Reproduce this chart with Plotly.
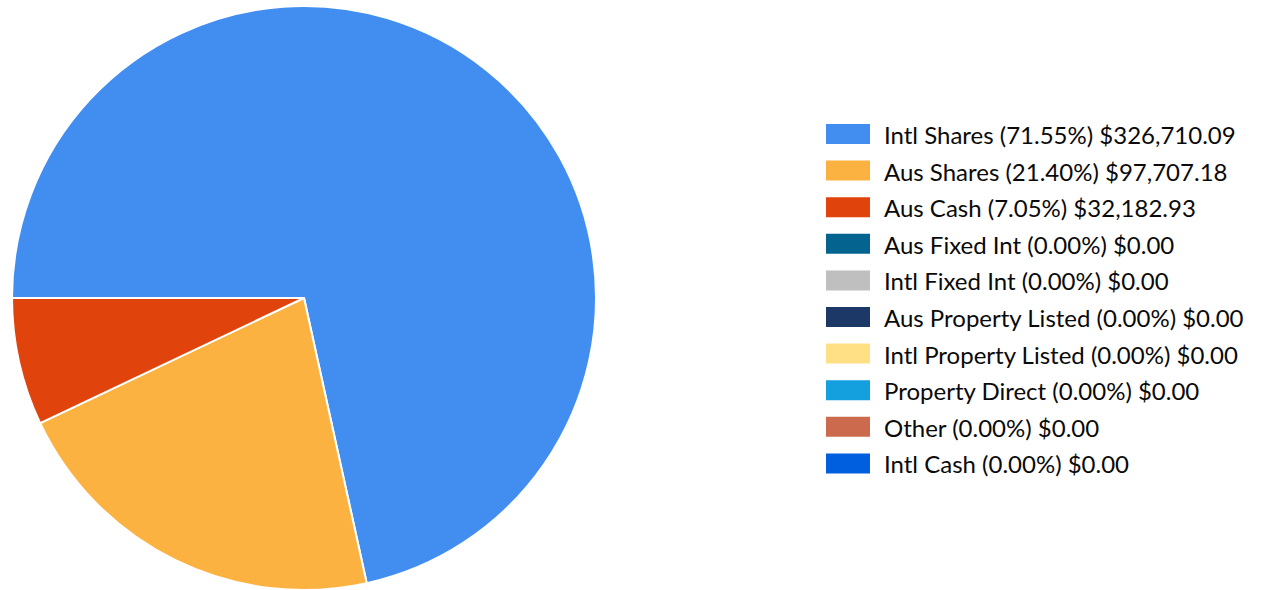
import plotly.graph_objects as go

categories = ["Intl Shares", "Aus Shares", "Aus Cash", "Aus Fixed Int", "Intl Fixed Int",
              "Aus Property Listed", "Intl Property Listed", "Property Direct", "Other", "Intl Cash"]
values = [326710.09, 97707.18, 32182.93, 0, 0, 0, 0, 0, 0, 0]
colors = ["#418EF0", "#FBB240", "#E0430B", "#05648F", "#BFBFBF",
          "#1C3867", "#FFE084", "#149FDE", "#CB6A4C", "#005FDE"]

W, H = 1262, 590
TOP = 6
PH = H - TOP
total = sum(values)
legend_text = [f"{c} ({v / total * 100:.2f}%) ${v:,.2f}" for c, v in zip(categories, values)]

fig = go.Figure(go.Pie(
    labels=categories, values=values, sort=False, direction="clockwise", rotation=270,
    marker=dict(colors=colors, line=dict(color="white", width=2)),
    textinfo="none", hoverinfo="label+value+percent", showlegend=False,
    domain=dict(x=[12 / W, 596 / W], y=[0, 1]),
))


def py(pix):
    # page pixel y -> paper fraction (plot area starts at TOP, height PH)
    return 1 - (pix - TOP) / PH


shapes, annotations = [], []
y0, dy = 134, 36.6
for i, (col, txt) in enumerate(zip(colors, legend_text)):
    yc = y0 + i * dy
    shapes.append(dict(type="rect", xref="paper", yref="paper",
                       x0=826 / W, x1=870 / W, y0=py(yc + 10), y1=py(yc - 10),
                       line=dict(width=0), fillcolor=col))
    annotations.append(dict(xref="paper", yref="paper", x=882 / W, y=py(yc + 0.5),
                            xanchor="left", yanchor="middle", text=txt, showarrow=False,
                            font=dict(family="Lato, Open Sans, sans-serif", size=24, color="#0a0a0a")))

fig.update_layout(width=W, height=H, margin=dict(l=0, r=0, t=TOP, b=0),
                  paper_bgcolor="white", plot_bgcolor="white",
                  shapes=shapes, annotations=annotations)
fig.write_html("out.html", config={"displayModeBar": False},
               post_script="document.body.style.margin='0';document.body.style.overflow='hidden';")
